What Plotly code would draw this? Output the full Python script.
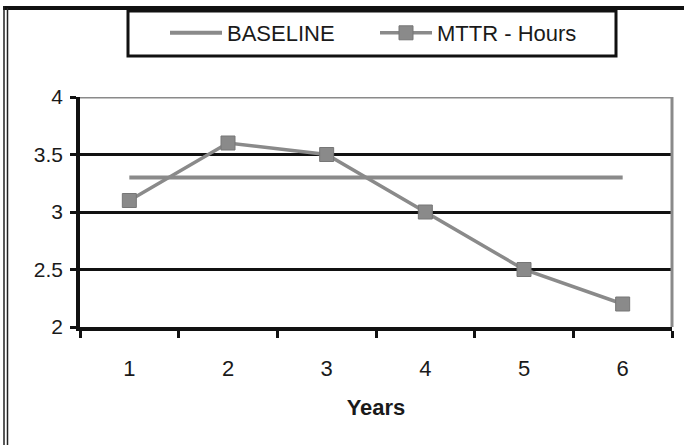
import plotly.graph_objects as go

years = ["1", "2", "3", "4", "5", "6"]
baseline = [3.3, 3.3, 3.3, 3.3, 3.3, 3.3]
mttr = [3.1, 3.6, 3.5, 3.0, 2.5, 2.2]

GRAY = "#8a8a8a"
FONT = "Liberation Sans, Arial, sans-serif"

fig = go.Figure()
fig.add_trace(go.Scatter(x=years, y=baseline, mode="lines", name="BASELINE",
                         line=dict(color=GRAY, width=4)))
fig.add_trace(go.Scatter(x=years, y=mttr, mode="lines+markers", name="MTTR - Hours",
                         line=dict(color=GRAY, width=3.5),
                         marker=dict(symbol="square", size=14, color=GRAY,
                                     line=dict(color="#767676", width=1))))

fig.update_layout(
    width=684, height=445,
    margin=dict(l=80, r=12, t=97, b=118, autoexpand=False),
    paper_bgcolor="white", plot_bgcolor="white",
    font=dict(family=FONT, size=21, color="#1a1a1a"),
    showlegend=True,
    legend=dict(orientation="h", xref="container", yref="container",
                x=165 / 684, xanchor="left", y=1 - 33 / 445, yanchor="middle",
                bgcolor="rgba(0,0,0,0)", font=dict(size=22, color="#1a1a1a"),
                itemwidth=52, tracegroupgap=0, entrywidth=143),
    xaxis=dict(type="category", range=[-0.5, 5.5], tickson="boundaries",
               ticks="outside", ticklen=7,
               tickwidth=3, tickcolor="#111", showline=True, linecolor="#111",
               linewidth=3.5, showgrid=False, zeroline=False,
               tickfont=dict(size=22), ticklabelstandoff=19,
               title=dict(text="<b>Years</b>", font=dict(size=22), standoff=20)),
    yaxis=dict(range=[2, 4], dtick=0.5, ticks="outside", ticklen=6,
               tickwidth=3, tickcolor="#111", showline=True, linecolor="#111",
               linewidth=3.5, showgrid=True, gridcolor="#111", gridwidth=3,
               zeroline=False, tickfont=dict(size=21), ticklabelstandoff=3),
)

# top gridline gray, right border gray
fig.add_shape(type="line", xref="paper", yref="y", x0=0, x1=1, y0=4, y1=4,
              line=dict(color=GRAY, width=3), layer="above")
fig.add_shape(type="line", xref="paper", yref="y", x0=1, x1=1, y0=2, y1=4,
              line=dict(color=GRAY, width=3), layer="above")

pw = 684 - 80 - 12
ph = 445 - 97 - 118
def px(x):
    return (x - 80) / pw
def py(y):
    return (445 - 118 - y) / ph
# legend box
fig.add_shape(type="rect", xref="paper", yref="paper",
              x0=px(128), x1=px(616), y0=py(56), y1=py(11),
              line=dict(color="#111", width=3), fillcolor="rgba(0,0,0,0)")
# outer frame: top thick line, left double line
fig.add_shape(type="line", xref="paper", yref="paper",
              x0=px(3), x1=px(684), y0=py(8), y1=py(8),
              line=dict(color="#111", width=4))
fig.add_shape(type="line", xref="paper", yref="paper",
              x0=px(4), x1=px(4), y0=py(6), y1=py(445),
              line=dict(color="#222", width=1.5))
fig.add_shape(type="line", xref="paper", yref="paper",
              x0=px(7.5), x1=px(7.5), y0=py(8), y1=py(445),
              line=dict(color="#222", width=1.5))

fig.write_html("out.html")
